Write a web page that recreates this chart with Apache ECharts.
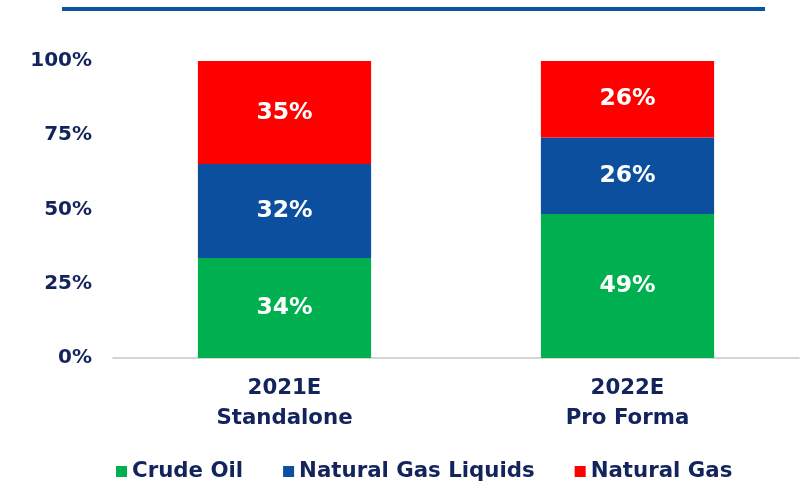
<!DOCTYPE html>
<html>
<head>
<meta charset="utf-8">
<script src="https://cdn.jsdelivr.net/npm/echarts@6/dist/echarts.min.js"></script>
<style>
  html, body { margin: 0; padding: 0; background: #fff; }
  #chart { width: 801px; height: 484px; }
</style>
</head>
<body>
<div id="chart"></div>
<script>
// values as printed on the bars (rounded %, so each column sums to ~101)
var categories = ['2021E\nStandalone', '2022E\nPro Forma'];
var crudeOil = [34, 49];
var ngl = [32, 26];
var naturalGas = [35, 26];
var yTicks = ['0%', '25%', '50%', '75%', '100%'];

var navy = '#13235c';
var font = 'DejaVu Sans, Liberation Sans, Arial, sans-serif';

var totals = categories.map(function (c, i) {
  return crudeOil[i] + ngl[i] + naturalGas[i];
});

// bar heights are the shares of the column, labels keep the printed value
function shares(arr) {
  return arr.map(function (v, i) {
    return { value: v / totals[i] * 100, raw: v };
  });
}

function makeSeries(name, arr, color) {
  return {
    name: name,
    type: 'bar',
    stack: 'mix',
    barWidth: '50.5%',
    data: shares(arr),
    itemStyle: { color: color },
    label: {
      show: true,
      position: 'inside',
      color: '#fff',
      fontFamily: font,
      fontWeight: 'bold',
      fontSize: 23.5,
      formatter: function (p) { return p.data.raw + '%'; }
    }
  };
}

var chart = echarts.init(document.getElementById('chart'));
chart.setOption({
  animation: false,
  grid: { left: 113, right: 2, top: 61, bottom: 126 },
  legend: {
    left: 111,
    top: 456,
    itemWidth: 11,
    itemHeight: 11,
    itemGap: 40,
    icon: 'rect',
    textStyle: { color: navy, fontFamily: font, fontWeight: 'bold', fontSize: 21.3 },
    data: ['Crude Oil', 'Natural Gas Liquids', 'Natural Gas']
  },
  graphic: [{
    type: 'rect',
    shape: { x: 62, y: 7, width: 703, height: 4 },
    style: { fill: '#0a55a0' }
  }],
  xAxis: {
    type: 'category',
    data: categories,
    axisLine: { lineStyle: { color: '#c8c8c8', width: 1.5 } },
    axisTick: { show: false },
    axisLabel: {
      color: navy, fontFamily: font, fontWeight: 'bold', fontSize: 21.3,
      lineHeight: 30, margin: 15
    }
  },
  yAxis: {
    type: 'value',
    min: 0,
    max: 100,
    interval: 25,
    splitLine: { show: false },
    axisLine: { show: false },
    axisTick: { show: false },
    axisLabel: {
      color: navy, fontFamily: font, fontWeight: 'bold', fontSize: 20, margin: 21,
      formatter: function (v) { return yTicks[Math.round(v / 25)]; }
    }
  },
  series: [
    makeSeries('Crude Oil', crudeOil, '#00b050'),
    makeSeries('Natural Gas Liquids', ngl, '#0b4f9e'),
    makeSeries('Natural Gas', naturalGas, '#ff0000')
  ]
});
</script>
</body>
</html>
